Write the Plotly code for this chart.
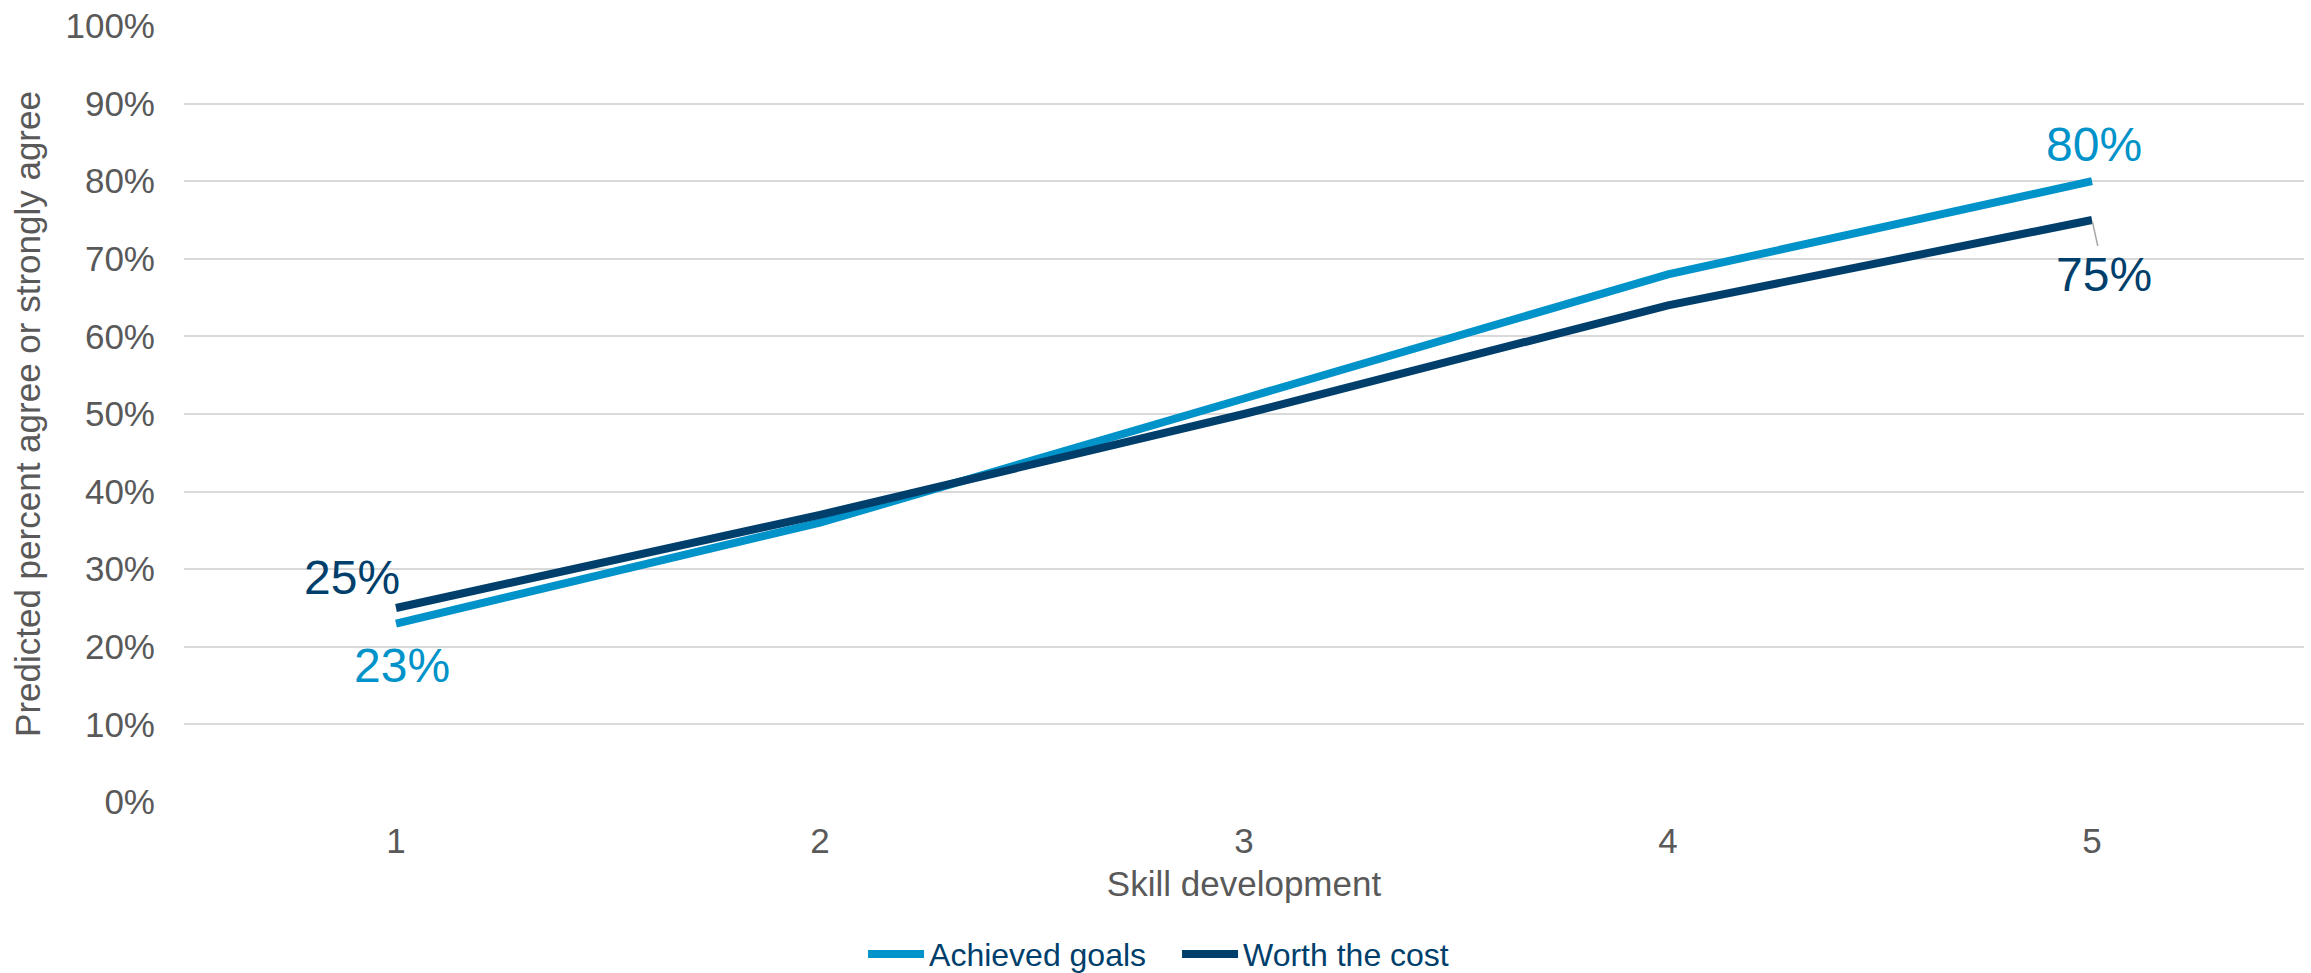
import plotly.graph_objects as go

# Skill development levels and predicted agreement (percent)
skill_levels = [1, 2, 3, 4, 5]
achieved_goals = [23, 36, 52, 68, 80]
worth_the_cost = [25, 37, 50, 64, 75]
y_ticks = list(range(0, 101, 10))
y_tick_labels = [f"{v}%" for v in y_ticks]

LIGHT = "#0093C9"
DARK = "#003F6B"
GREY_TEXT = "#595959"
FONT = "Liberation Sans, Arial, Helvetica, sans-serif"

fig = go.Figure()
fig.add_trace(go.Scatter(
    x=skill_levels, y=achieved_goals, mode="lines", name="Achieved goals",
    line=dict(color=LIGHT, width=8),
))
fig.add_trace(go.Scatter(
    x=skill_levels, y=worth_the_cost, mode="lines", name="Worth the cost",
    line=dict(color=DARK, width=8),
))

# End-point value labels
label_font = dict(family=FONT, size=48)
fig.add_annotation(x=skill_levels[0], y=worth_the_cost[0], text=f"{worth_the_cost[0]}%",
                   showarrow=False, xshift=-44, yshift=31, font=dict(color=DARK, **label_font))
fig.add_annotation(x=skill_levels[0], y=achieved_goals[0], text=f"{achieved_goals[0]}%",
                   showarrow=False, xshift=6, yshift=-42, font=dict(color=LIGHT, **label_font))
fig.add_annotation(x=skill_levels[-1], y=achieved_goals[-1], text=f"{achieved_goals[-1]}%",
                   showarrow=False, xshift=2, yshift=37, font=dict(color=LIGHT, **label_font))
fig.add_annotation(x=skill_levels[-1], y=worth_the_cost[-1], text=f"{worth_the_cost[-1]}%",
                   showarrow=True, arrowhead=0, arrowwidth=1.5, arrowcolor="#A6A6A6",
                   ax=12, ay=54, standoff=2, font=dict(color=DARK, **label_font))

fig.update_layout(
    width=2311, height=973,
    margin=dict(l=184, r=7, t=26, b=171, autoexpand=False),
    paper_bgcolor="white", plot_bgcolor="white",
    font=dict(family=FONT, size=35, color=GREY_TEXT),
    showlegend=True,
    legend=dict(orientation="h", x=0.3203, xanchor="left", y=-0.196, yanchor="middle",
                font=dict(size=32, color=DARK), itemwidth=56, entrywidth=243,
                tracegroupgap=0),
    xaxis=dict(
        tickmode="array", tickvals=skill_levels, ticktext=[str(v) for v in skill_levels],
        range=[0.5, 5.5], showgrid=False, zeroline=False, showline=False,
        ticks="", ticklabelstandoff=15,
        tickfont=dict(size=35, color=GREY_TEXT),
        title=dict(text="Skill development", font=dict(size=35, color=GREY_TEXT), standoff=12),
        automargin=False,
    ),
    yaxis=dict(
        tickmode="array", tickvals=y_ticks, ticktext=y_tick_labels,
        range=[0, 100], showgrid=True, gridcolor="#D9D9D9", gridwidth=1.5,
        zeroline=False, showline=False,
        ticks="", ticklabelstandoff=28,
        tickfont=dict(size=35, color=GREY_TEXT),
        title=dict(text="Predicted percent agree or strongly agree",
                   font=dict(size=35, color=GREY_TEXT), standoff=14),
        automargin=False,
    ),
)

fig.write_html("out.html")
